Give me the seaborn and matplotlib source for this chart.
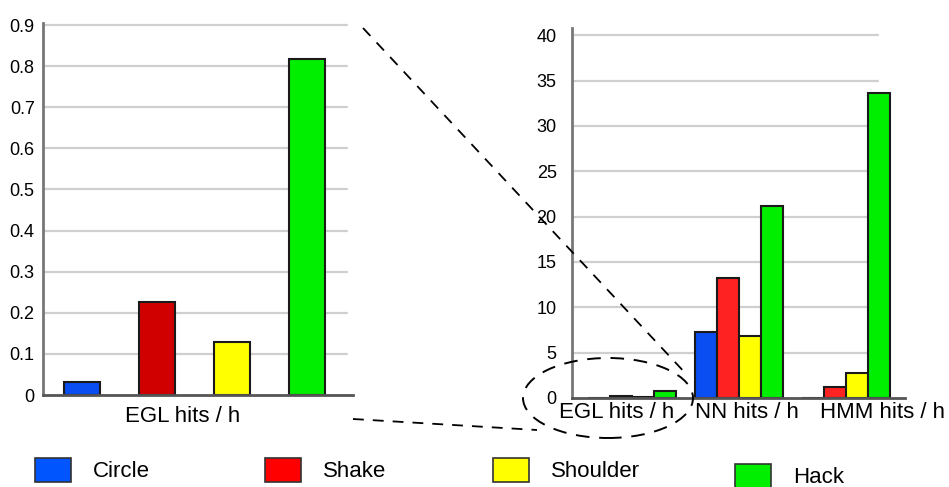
import matplotlib.pyplot as plt
import matplotlib.patches as mpatches
import matplotlib.transforms as mtransforms
from matplotlib import font_manager
from matplotlib.lines import Line2D
import numpy as np
import pandas as pd
import seaborn as sns

# data
gestures = ['Circle', 'Shake', 'Shoulder', 'Hack']
groups = ['EGL hits / h', 'NN hits / h', 'HMM hits / h']
egl_hits = [0.032, 0.226, 0.13, 0.817]
nn_hits = [7.3, 13.2, 6.8, 21.2]
hmm_hits = [0.0, 1.2, 2.8, 33.6]

left_ticks = [0, 0.1, 0.2, 0.3, 0.4, 0.5, 0.6, 0.7, 0.8, 0.9]
left_labels = ['0', '0.1', '0.2', '0.3', '0.4', '0.5', '0.6', '0.7', '0.8', '0.9']
right_ticks = [0, 5, 10, 15, 20, 25, 30, 35, 40]

left_colors = ['#0a4df0', '#d00000', '#ffff00', '#00ee00']
right_colors = ['#0a4df0', '#ff2222', '#ffff00', '#00ee00']
legend_colors = ['#0055ff', '#ff0000', '#ffff00', '#00ee00']

sns.set_style('white')
plt.rcParams['font.family'] = ['Liberation Sans', 'DejaVu Sans']
plt.rcParams['text.color'] = 'black'
plt.rcParams['axes.labelcolor'] = 'black'
plt.rcParams['xtick.color'] = 'black'
plt.rcParams['ytick.color'] = 'black'

installed = {f.name for f in font_manager.fontManager.ttflist}
narrow = 'Liberation Sans Narrow' if 'Liberation Sans Narrow' in installed else 'Liberation Sans'

W, H = 949, 487
fig = plt.figure(figsize=(W / 100, H / 100), dpi=100)


def px(x, y):
    # pixel position -> figure fraction
    return x / W, 1 - y / H


# left panel: EGL only
ax1 = fig.add_axes([43 / W, 1 - 395 / H, 310 / W, 372 / H])
sns.barplot(x=gestures, y=egl_hits, hue=gestures, palette=left_colors, saturation=1,
            width=0.48, edgecolor='#1a1a1a', linewidth=1.5, legend=False, ax=ax1)
ax1.set_xlim(-0.52, 3.61)
ax1.set_ylim(0, 0.905)
ax1.set_yticks(left_ticks)
ax1.set_yticklabels(left_labels)
ax1.set_xticks([])
ax1.set_xlabel('EGL hits / h', fontsize=16, color='black')
ax1.xaxis.set_label_coords(0.45, -0.03, transform=ax1.transAxes)
ax1.xaxis.label.set_va('top')
ax1.set_ylabel('')

# right panel: all three
df = pd.DataFrame({
    'group': np.repeat(groups, len(gestures)),
    'gesture': gestures * len(groups),
    'value': egl_hits + nn_hits + hmm_hits,
})
ax2 = fig.add_axes([572 / W, 1 - 398 / H, 333 / W, 370 / H])
sns.barplot(data=df, x='group', y='value', hue='gesture', palette=right_colors, saturation=1,
            width=0.82, edgecolor='#1a1a1a', linewidth=1.5, legend=False, ax=ax2)
ax2.set_xlim(-0.56, 2.55)
ax2.set_ylim(0, 40.8)
ax2.set_yticks(right_ticks)
ax2.set_xlabel('')
ax2.set_ylabel('')

for ax, ticks, xmax in [(ax1, left_ticks, 0.98), (ax2, right_ticks, 0.92)]:
    for t in ticks[1:]:
        ax.axhline(t, xmax=xmax, color='#cfcfcf', lw=1.6, zorder=0)
    sns.despine(ax=ax)
    ax.spines['left'].set_color('#777777')
    ax.spines['left'].set_linewidth(2)
    ax.spines['bottom'].set_color('#555555')
    ax.spines['bottom'].set_linewidth(2)
    ax.tick_params(length=0)
    ax.set_axisbelow(True)

ax1.tick_params(axis='y', labelsize=13, pad=6)
ax2.tick_params(axis='y', labelsize=13, pad=11)
ax2.tick_params(axis='x', labelsize=16, pad=3)

# group labels in the original sit a little off the group centres
for lab, dx in zip(ax2.get_xticklabels(), [-15, 8, 36]):
    lab.set_transform(lab.get_transform() + mtransforms.ScaledTranslation(dx / 100, 0, fig.dpi_scale_trans))

# zoom connector: dashed lines and ellipse
line_kw = dict(color='black', lw=1.3, linestyle=(0, (6, 5)), transform=fig.transFigure)
x0, y0 = px(363, 28)
x1, y1 = px(688, 376)
fig.add_artist(Line2D([x0, x1], [y0, y1], **line_kw))
x0, y0 = px(353, 419)
x1, y1 = px(537, 430)
fig.add_artist(Line2D([x0, x1], [y0, y1], **line_kw))
cx, cy = px(608, 398)
fig.add_artist(mpatches.Ellipse((cx, cy), 170 / W, 80 / H, fill=False,
                                edgecolor='black', lw=1.4, linestyle=(0, (7, 5)),
                                transform=fig.transFigure))

# legend, one entry at a time
legend_x = [35, 265, 493, 735]
legend_y = [470, 470, 470, 476]
for name, col, lx, ly in zip(gestures, legend_colors, legend_x, legend_y):
    h = mpatches.Patch(facecolor=col, edgecolor='#333333', lw=1.2, label=name)
    fx, fy = px(lx, ly)
    fig.legend(handles=[h], loc='center left', bbox_to_anchor=(fx, fy),
               frameon=False, prop={'family': [narrow, 'DejaVu Sans'], 'size': 16},
               handlelength=1.6, handleheight=1.35, handletextpad=1.0,
               borderpad=0, borderaxespad=0)

fig.savefig('out.png', dpi=100)
